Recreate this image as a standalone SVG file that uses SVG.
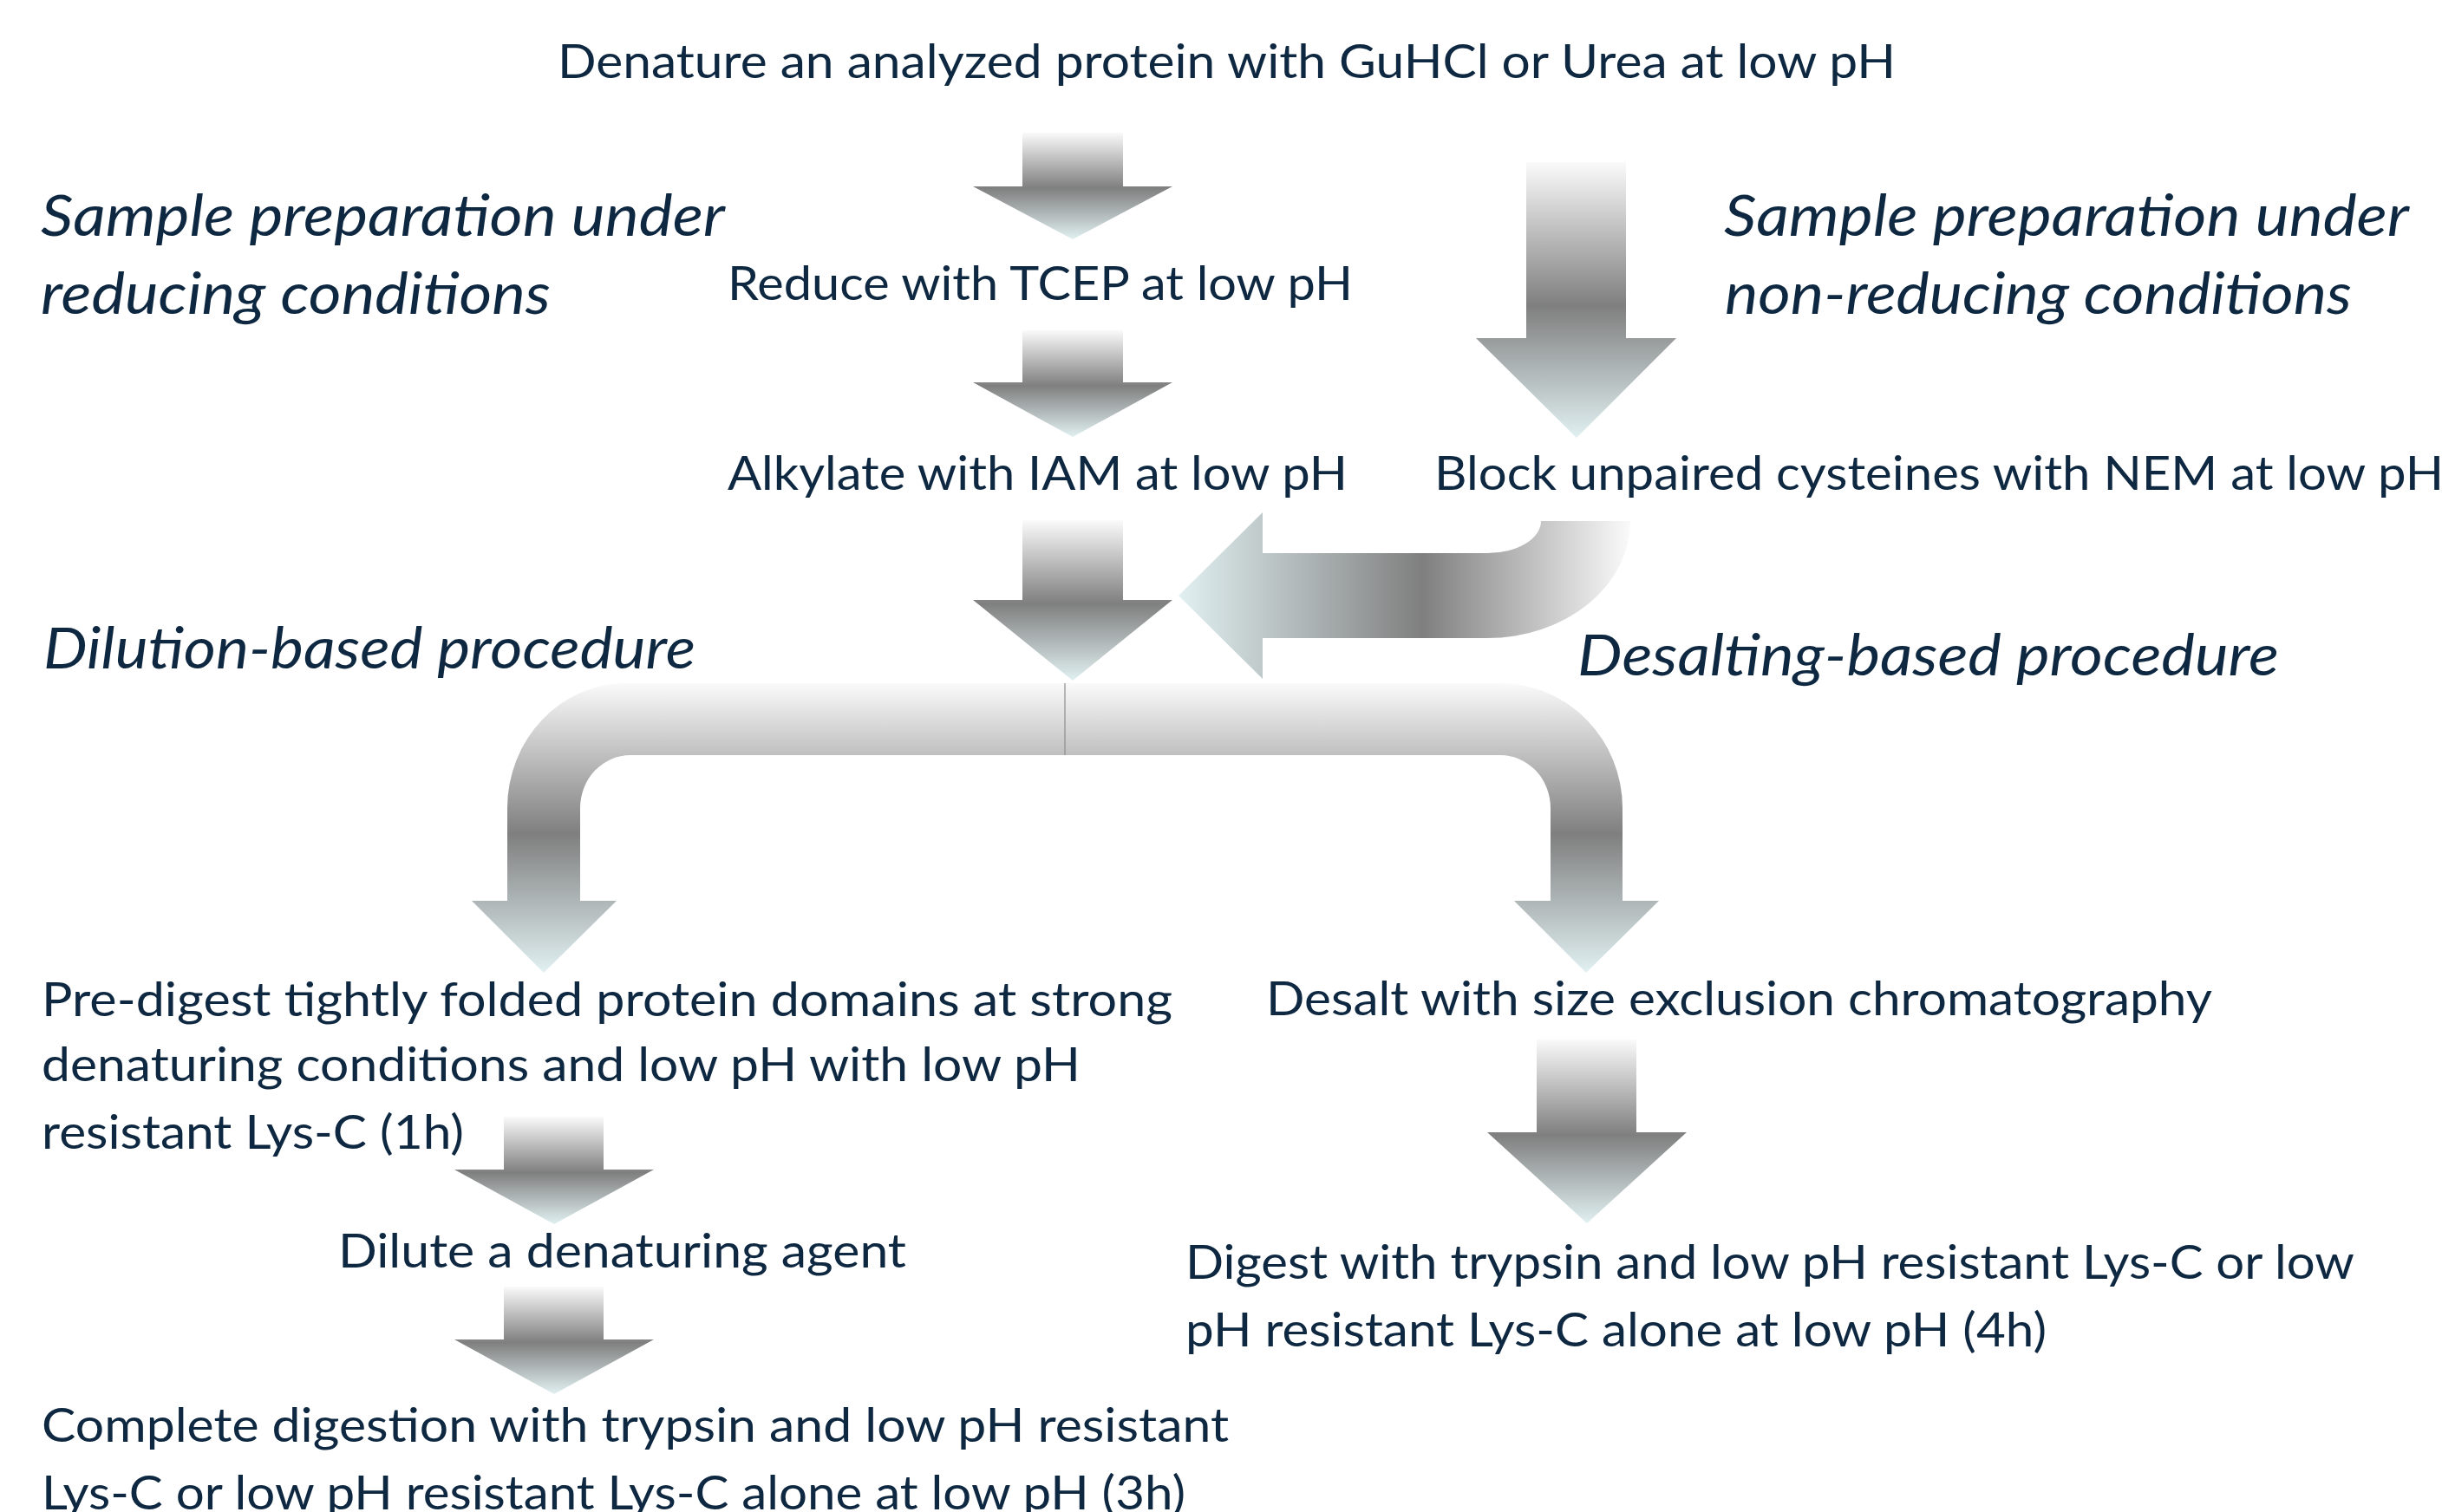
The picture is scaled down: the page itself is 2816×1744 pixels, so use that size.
<svg xmlns="http://www.w3.org/2000/svg" width="2816" height="1744" viewBox="0 0 2816 1744">
  <style>
    .step { font-family: Lato, "Open Sans", "Liberation Sans", sans-serif; font-size: 54px; fill: #0e2841; }
    .head { font-family: Lato, "Open Sans", "Liberation Sans", sans-serif; font-size: 65px; font-style: italic; fill: #0e2841; }
    .varrow { fill: url(#gradV); }
    .harrow { fill: url(#gradH); }
  </style>
  <defs>
    <!-- vertical fade: pale top, grey middle, pale cyan tip -->
    <linearGradient id="gradV" x1="0" y1="0" x2="0" y2="1">
      <stop offset="0" stop-color="#fafafa"/>
      <stop offset="0.52" stop-color="#7f7f7f"/>
      <stop offset="1" stop-color="#e1f0f1"/>
    </linearGradient>
    <!-- horizontal fade for the leftward bent arrow -->
    <linearGradient id="gradH" x1="1" y1="0" x2="0" y2="0">
      <stop offset="0" stop-color="#fafafa"/>
      <stop offset="0.46" stop-color="#7f7f7f"/>
      <stop offset="1" stop-color="#e1f0f1"/>
    </linearGradient>
  </defs>
  <rect width="2816" height="1744" fill="#ffffff"/>

  <g id="connectors">
    <polygon id="arrow-denature-reduce" class="varrow" points="1179,153 1295,153 1295,215 1352,215 1237,276 1122,215 1179,215"/>
    <polygon id="arrow-reduce-alkylate" class="varrow" points="1179,381 1295,381 1295,441 1352,441 1237,504 1122,441 1179,441"/>
    <polygon id="arrow-alkylate-split" class="varrow" points="1179,600 1295,600 1295,692 1352,692 1237,785 1122,692 1179,692"/>
    <polygon id="arrow-denature-block" class="varrow" points="1760,187 1875,187 1875,390 1933,390 1818,505 1702,390 1760,390"/>
    <path id="arrow-block-split" class="harrow" d="M1359,687 L1456,591 L1456,638 L1715,638 A62,37 0 0 0 1777,601 L1880,601 A165,135 0 0 1 1715,736 L1456,736 L1456,783 Z"/>
    <path id="arrow-split-dilution" class="varrow" d="M1228,788 L722,788 A137,144 0 0 0 585,932 L585,1039 L544,1039 L627,1122 L711,1039 L669,1039 L669,932 A58,61 0 0 1 727,871 L1228,871 Z"/>
    <path id="arrow-split-desalt" class="varrow" d="M1228,788 L1730,788 A141,144 0 0 1 1871,932 L1871,1039 L1913,1039 L1829,1122 L1746,1039 L1788,1039 L1788,932 A58,61 0 0 0 1730,871 L1228,871 Z"/>
    <line x1="1228" y1="788" x2="1228" y2="871" stroke="#8c8c8c" stroke-width="1.2"/>
    <polygon id="arrow-predigest-dilute" class="varrow" points="581,1288 696,1288 696,1349 754,1349 639,1412 524,1349 581,1349"/>
    <polygon id="arrow-dilute-complete" class="varrow" points="581,1484 696,1484 696,1545 754,1545 639,1608 524,1545 581,1545"/>
    <polygon id="arrow-desalt-digest" class="varrow" points="1772,1199 1887,1199 1887,1306 1945,1306 1830,1411 1715,1306 1772,1306"/>
  </g>

  <g id="heading-reducing">
    <text class="head" x="47" y="272" textLength="789" lengthAdjust="spacingAndGlyphs">Sample preparation under</text>
    <text class="head" x="47" y="362" textLength="588" lengthAdjust="spacingAndGlyphs">reducing conditions</text>
  </g>
  <g id="heading-nonreducing">
    <text class="head" x="1988" y="272" textLength="790" lengthAdjust="spacingAndGlyphs">Sample preparation under</text>
    <text class="head" x="1989" y="362" textLength="723" lengthAdjust="spacingAndGlyphs">non-reducing conditions</text>
  </g>
  <g id="heading-dilution">
    <text class="head" x="50" y="771" textLength="752" lengthAdjust="spacingAndGlyphs">Dilution-based procedure</text>
  </g>
  <g id="heading-desalting">
    <text class="head" x="1819" y="779" textLength="809" lengthAdjust="spacingAndGlyphs">Desalting-based procedure</text>
  </g>

  <g id="node-denature">
    <text class="step" x="643" y="90" textLength="1543" lengthAdjust="spacingAndGlyphs">Denature an analyzed protein with GuHCl or Urea at low pH</text>
  </g>
  <g id="node-reduce">
    <text class="step" x="839" y="346" textLength="721" lengthAdjust="spacingAndGlyphs">Reduce with TCEP at low pH</text>
  </g>
  <g id="node-alkylate">
    <text class="step" x="839" y="565" textLength="715" lengthAdjust="spacingAndGlyphs">Alkylate with IAM at low pH</text>
  </g>
  <g id="node-block">
    <text class="step" x="1654" y="565" textLength="1164" lengthAdjust="spacingAndGlyphs">Block unpaired cysteines with NEM at low pH</text>
  </g>
  <g id="node-predigest">
    <text class="step" x="48" y="1172" textLength="1304" lengthAdjust="spacingAndGlyphs">Pre-digest tightly folded protein domains at strong</text>
    <text class="step" x="48" y="1247" textLength="1198" lengthAdjust="spacingAndGlyphs">denaturing conditions and low pH with low pH</text>
    <text class="step" x="48" y="1325" textLength="487" lengthAdjust="spacingAndGlyphs">resistant Lys-C (1h)</text>
  </g>
  <g id="node-desalt">
    <text class="step" x="1460" y="1171" textLength="1091" lengthAdjust="spacingAndGlyphs">Desalt with size exclusion chromatography</text>
  </g>
  <g id="node-dilute">
    <text class="step" x="390" y="1462" textLength="655" lengthAdjust="spacingAndGlyphs">Dilute a denaturing agent</text>
  </g>
  <g id="node-digest">
    <text class="step" x="1367" y="1475" textLength="1348" lengthAdjust="spacingAndGlyphs">Digest with trypsin and low pH resistant Lys-C or low</text>
    <text class="step" x="1367" y="1553" textLength="993" lengthAdjust="spacingAndGlyphs">pH resistant Lys-C alone at low pH (4h)</text>
  </g>
  <g id="node-complete">
    <text class="step" x="48" y="1663" textLength="1369" lengthAdjust="spacingAndGlyphs">Complete digestion with trypsin and low pH resistant</text>
    <text class="step" x="48" y="1741" textLength="1319" lengthAdjust="spacingAndGlyphs">Lys-C or low pH resistant Lys-C alone at low pH (3h)</text>
  </g>
</svg>
